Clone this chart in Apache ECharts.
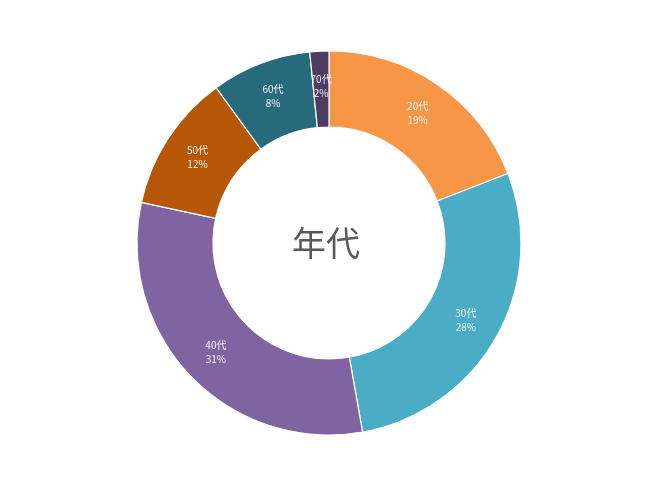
<!DOCTYPE html>
<html>
<head>
<meta charset="utf-8">
<script src="https://cdn.jsdelivr.net/npm/echarts@6/dist/echarts.min.js"></script>
<style>html,body{margin:0;padding:0;background:#fff}#c{width:650px;height:487px}</style>
</head>
<body>
<div id="c"></div>
<script>
const categories = ['20代', '30代', '40代', '50代', '60代', '70代'];
const values = [19.1, 28.1, 31.2, 11.6, 8.4, 1.6];
const colors = ['#F79646', '#4BACC6', '#8064A2', '#B65708', '#276A7C', '#4D3B62'];
const title = '年代';

const chart = echarts.init(document.getElementById('c'));
chart.setOption({
  animation: false,
  title: {
    text: title,
    left: 321, top: 238,
    textAlign: 'center', textVerticalAlign: 'middle',
    textStyle: { fontSize: 34, fontWeight: 'normal', color: '#595959', fontFamily: 'Noto Sans CJK JP' }
  },
  series: [{
    type: 'pie',
    center: [329, 243],
    radius: [116, 192],
    startAngle: 90,
    clockwise: true,
    data: categories.map((c, i) => ({ name: c, value: values[i], itemStyle: { color: colors[i] } })),
    itemStyle: { borderColor: '#fff', borderWidth: 1.2 },
    label: {
      position: 'inside',
      formatter: p => p.name + '\n' + Math.round(p.percent) + '%',
      fontSize: 10,
      lineHeight: 14,
      color: '#F2F2F2',
      fontFamily: 'Noto Sans CJK JP'
    },
    labelLine: { show: false }
  }]
});
</script>
</body>
</html>
